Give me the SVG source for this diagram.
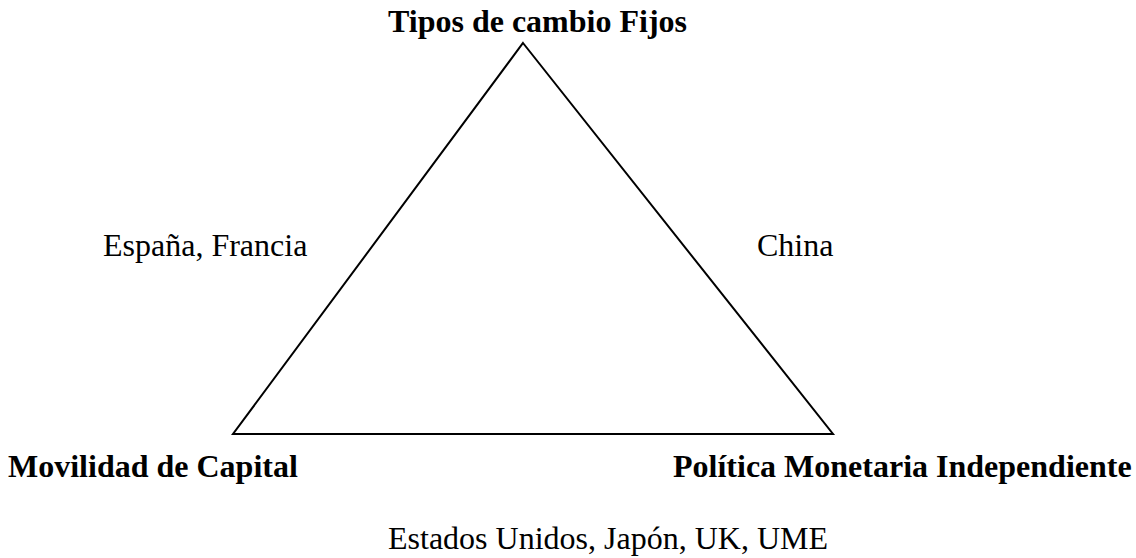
<svg xmlns="http://www.w3.org/2000/svg" width="1136" height="558" viewBox="0 0 1136 558">
<style>
.t{font-family:"Liberation Serif","Times New Roman",serif;font-size:32px;fill:#000}
.b{font-weight:bold}
.edge{fill:none;stroke:#000;stroke-width:2;stroke-linejoin:miter}
</style>
<rect width="1136" height="558" fill="#fff"/>
<g id="connectors">
<polygon class="edge" points="523,43 833,434 233,434"/>
</g>
<g id="node-fijos"><text class="t b" x="388" y="32">Tipos de cambio Fijos</text></g>
<g id="node-movilidad"><text class="t b" x="8" y="477">Movilidad de Capital</text></g>
<g id="node-politica"><text class="t b" x="673" y="477">Política Monetaria Independiente</text></g>
<g id="label-espana"><text class="t" x="103" y="256">España, Francia</text></g>
<g id="label-china"><text class="t" x="757" y="256">China</text></g>
<g id="label-eeuu"><text class="t" x="388" y="549">Estados Unidos, Japón, UK, UME</text></g>
</svg>
